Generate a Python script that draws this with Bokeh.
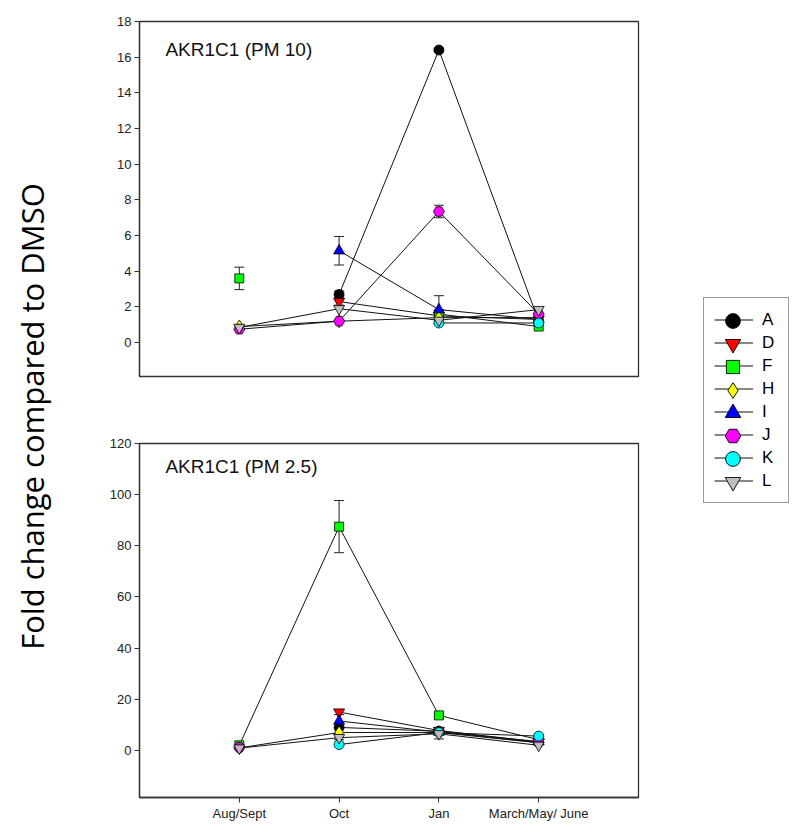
import numpy as np
from bokeh.plotting import figure
from bokeh.models import (ColumnDataSource, Range1d, FixedTicker, Label, Legend,
                          LegendItem, Whisker, TeeHead)
from bokeh.layouts import row, column
from bokeh.embed import file_html
from bokeh.resources import INLINE
from bokeh.core.properties import value

nan = float("nan")

# ---------------- data ----------------
months = ["Aug/Sept", "Oct", "Jan", "March/May/ June"]
month_pos = [1, 2, 3, 4]
series = ["A", "D", "F", "H", "I", "J", "K", "L"]

# PM 10 (Aug/Sept, Oct, Jan, March/May/June)
pm10_A = [nan, 2.7, 16.4, 1.2]
pm10_D = [nan, 2.3, 1.5, 1.3]
pm10_F = [3.6, nan, 1.6, 0.9]
pm10_H = [0.9, 1.2, 1.4, 1.4]
pm10_I = [nan, 5.15, 1.85, 1.3]
pm10_J = [0.75, 1.2, 7.35, 1.6]
pm10_K = [nan, nan, 1.1, 1.1]
pm10_L = [0.85, 1.9, 1.25, 1.85]

pm10_err_A = [nan, 0.2, 0.1, nan]
pm10_err_D = [nan, 0.2, nan, nan]
pm10_err_F = [0.63, nan, nan, nan]
pm10_err_I = [nan, 0.8, 0.78, nan]
pm10_err_J = [nan, nan, 0.35, nan]

# PM 2.5
pm25_A = [nan, 9.0, 7.5, 3.0]
pm25_D = [nan, 15.0, 7.8, 3.3]
pm25_F = [2.0, 87.5, 13.7, 4.2]
pm25_H = [1.0, 7.0, 7.0, 3.0]
pm25_I = [nan, 11.5, 7.2, 3.5]
pm25_J = [1.2, nan, nan, 4.3]
pm25_K = [nan, 2.3, 7.0, 5.6]
pm25_L = [0.9, 5.0, 6.5, 2.0]

pm25_err_F = [nan, 10.2, 0.8, nan]
pm25_err_L = [nan, 0.8, 2.0, nan]
pm25_err_D = [nan, 1.0, nan, nan]

pm10_vals = dict(A=pm10_A, D=pm10_D, F=pm10_F, H=pm10_H, I=pm10_I, J=pm10_J, K=pm10_K, L=pm10_L)
pm10_errs = dict(A=pm10_err_A, D=pm10_err_D, F=pm10_err_F, I=pm10_err_I, J=pm10_err_J)
pm25_vals = dict(A=pm25_A, D=pm25_D, F=pm25_F, H=pm25_H, I=pm25_I, J=pm25_J, K=pm25_K, L=pm25_L)
pm25_errs = dict(F=pm25_err_F, L=pm25_err_L, D=pm25_err_D)

pm10_ticks = [0, 2, 4, 6, 8, 10, 12, 14, 16, 18]
pm25_ticks = [0, 20, 40, 60, 80, 100, 120]

# ---------------- styles ----------------
colors = dict(A="#000000", D="#FF0000", F="#00FF00", H="#FFFF00", I="#0000FF",
              J="#FF00FF", K="#00FFFF", L="#BEBEBE")
markers = dict(A="circle", D="inverted_triangle", F="square", H="diamond", I="triangle",
               J="hex", K="circle", L="inverted_triangle")
msize = dict(A=10, D=11, F=9, H=13, I=11, J=11, K=10, L=11)
leg_glyph_h = dict(A=37, D=39, F=33, H=44, I=39, J=39, K=37, L=39)

AX = "#333333"
TICK_FONT = "Liberation Sans"
TOTAL_H = 828


def make_panel(vals, errs, yr, ticks, title, title_y, height, bl, br, bt, bb, show_x):
    p = figure(width=576, height=height, x_range=Range1d(0, 5), y_range=Range1d(*yr),
               output_backend="svg", toolbar_location=None,
               min_border_left=bl, min_border_right=br, min_border_top=bt, min_border_bottom=bb)
    p.xgrid.visible = False
    p.ygrid.visible = False
    p.outline_line_color = AX
    p.outline_line_width = 1.3
    p.background_fill_color = "white"
    p.border_fill_color = "white"

    p.yaxis.ticker = FixedTicker(ticks=ticks)
    p.yaxis.major_tick_in = 0
    p.yaxis.major_tick_out = 5
    p.yaxis.minor_tick_line_color = None
    p.yaxis.axis_line_color = AX
    p.yaxis.axis_line_width = 1.3
    p.yaxis.major_tick_line_color = AX
    p.yaxis.major_label_text_font = TICK_FONT
    p.yaxis.major_label_text_font_size = "13px"
    p.yaxis.major_label_text_color = "#222222"
    p.yaxis.major_label_standoff = 3

    if show_x:
        p.xaxis.ticker = FixedTicker(ticks=month_pos)
        p.xaxis.major_label_overrides = {k: v for k, v in zip(month_pos, months)}
        p.xaxis.major_tick_in = 0
        p.xaxis.major_tick_out = 5
        p.xaxis.minor_tick_line_color = None
        p.xaxis.axis_line_color = AX
        p.xaxis.axis_line_width = 1.3
        p.xaxis.major_tick_line_color = AX
        p.xaxis.major_label_text_font = TICK_FONT
        p.xaxis.major_label_text_font_size = "13px"
        p.xaxis.major_label_text_color = "#222222"
        p.xaxis.major_label_standoff = 3
    else:
        p.xaxis.visible = False

    # lines
    for s in series:
        p.line(month_pos, vals[s], line_color="#111111", line_width=1)

    # error bars
    ex, eu, el = [], [], []
    for s, e in errs.items():
        for xi, v, ei in zip(month_pos, vals[s], e):
            if not (np.isnan(v) or np.isnan(ei)):
                ex.append(xi)
                eu.append(v + ei)
                el.append(v - ei)
    src = ColumnDataSource(dict(x=ex, upper=eu, lower=el))
    w = Whisker(base="x", upper="upper", lower="lower", source=src,
                line_color="#222222", line_width=1,
                upper_head=TeeHead(size=10, line_color="#222222", line_width=1),
                lower_head=TeeHead(size=10, line_color="#222222", line_width=1))
    p.add_layout(w)

    # markers
    for s in series:
        p.scatter(month_pos, vals[s], marker=markers[s], size=msize[s],
                  fill_color=colors[s], line_color="#000000", line_width=0.8)

    p.add_layout(Label(x=0.26, y=title_y, text=title, text_font="Liberation Sans",
                       text_font_size="19px", text_baseline="middle", text_color="#111111"))
    return p


top = make_panel(pm10_vals, pm10_errs, (-1.9, 18), pm10_ticks, "AKR1C1 (PM 10)", 16.45,
                 420, 71, 2, 21, 44, False)
bot = make_panel(pm25_vals, pm25_errs, (-18.4, 120), pm25_ticks, "AKR1C1 (PM 2.5)", 111,
                 408, 67, 6, 23, 31, True)

# y axis title figure
lab = figure(width=68, height=TOTAL_H, x_range=Range1d(0, 68), y_range=Range1d(0, TOTAL_H),
             output_backend="svg", toolbar_location=None, min_border=0)
lab.axis.visible = False
lab.grid.visible = False
lab.outline_line_color = None
lab.text(x=[31], y=[TOTAL_H - 416], text=["Fold change compared to DMSO"], angle=np.pi / 2,
         text_font=value("Open Sans"), text_font_size=value("31px"),
         text_align="center", text_baseline="middle", text_color="#000000")

# legend figure
leg = figure(width=148, height=TOTAL_H, x_range=Range1d(10, 11), y_range=Range1d(500, 501),
             output_backend="svg", toolbar_location=None, min_border=0)
leg.axis.visible = False
leg.grid.visible = False
leg.outline_line_color = None

LEG_LEFT = 59          # legend box left (px in legend figure)
LEG_TOP = 299          # legend box top (px from top)
ROW_H = 23
PAD = 10
GLYPH_W = 39

line_items = []
marker_renderers = {}
for s in series:
    lr = leg.line(month_pos, pm10_vals[s], line_color="#111111", line_width=1.2)
    sr = leg.scatter(month_pos, pm10_vals[s], marker=markers[s], size=10,
                     fill_color=colors[s], line_color="#000000", line_width=0.9)
    line_items.append(LegendItem(label=s, renderers=[lr]))
    marker_renderers[s] = sr

box_h = 2 * PAD + ROW_H * len(series)
main_legend = Legend(items=line_items, location=(LEG_LEFT, TOTAL_H - (LEG_TOP + box_h)),
                     orientation="vertical",
                     glyph_width=GLYPH_W, glyph_height=ROW_H, label_height=ROW_H, spacing=0,
                     padding=PAD, margin=0, label_standoff=9, label_width=16,
                     label_text_font="Liberation Sans", label_text_font_size="17px",
                     label_text_color="#000000",
                     border_line_color="#333333", border_line_width=1.5,
                     background_fill_color="white", background_fill_alpha=1)
leg.add_layout(main_legend)

# large legend markers: one single-item legend per series, overlaid on each row
for k, s in enumerate(series):
    gh = leg_glyph_h[s]
    center = LEG_TOP + PAD + ROW_H * k + ROW_H / 2
    ml = Legend(items=[LegendItem(label="", renderers=[marker_renderers[s]])],
                location=(LEG_LEFT + PAD, TOTAL_H - (center + gh / 2)),
                glyph_width=GLYPH_W, glyph_height=gh, label_height=gh, spacing=0,
                padding=0, margin=0, label_standoff=0, label_width=0,
                border_line_color=None, background_fill_alpha=0)
    leg.add_layout(ml)

layout = row(lab, column(top, bot), leg)

with open("out.html", "w") as f:
    f.write(file_html(layout, INLINE))
